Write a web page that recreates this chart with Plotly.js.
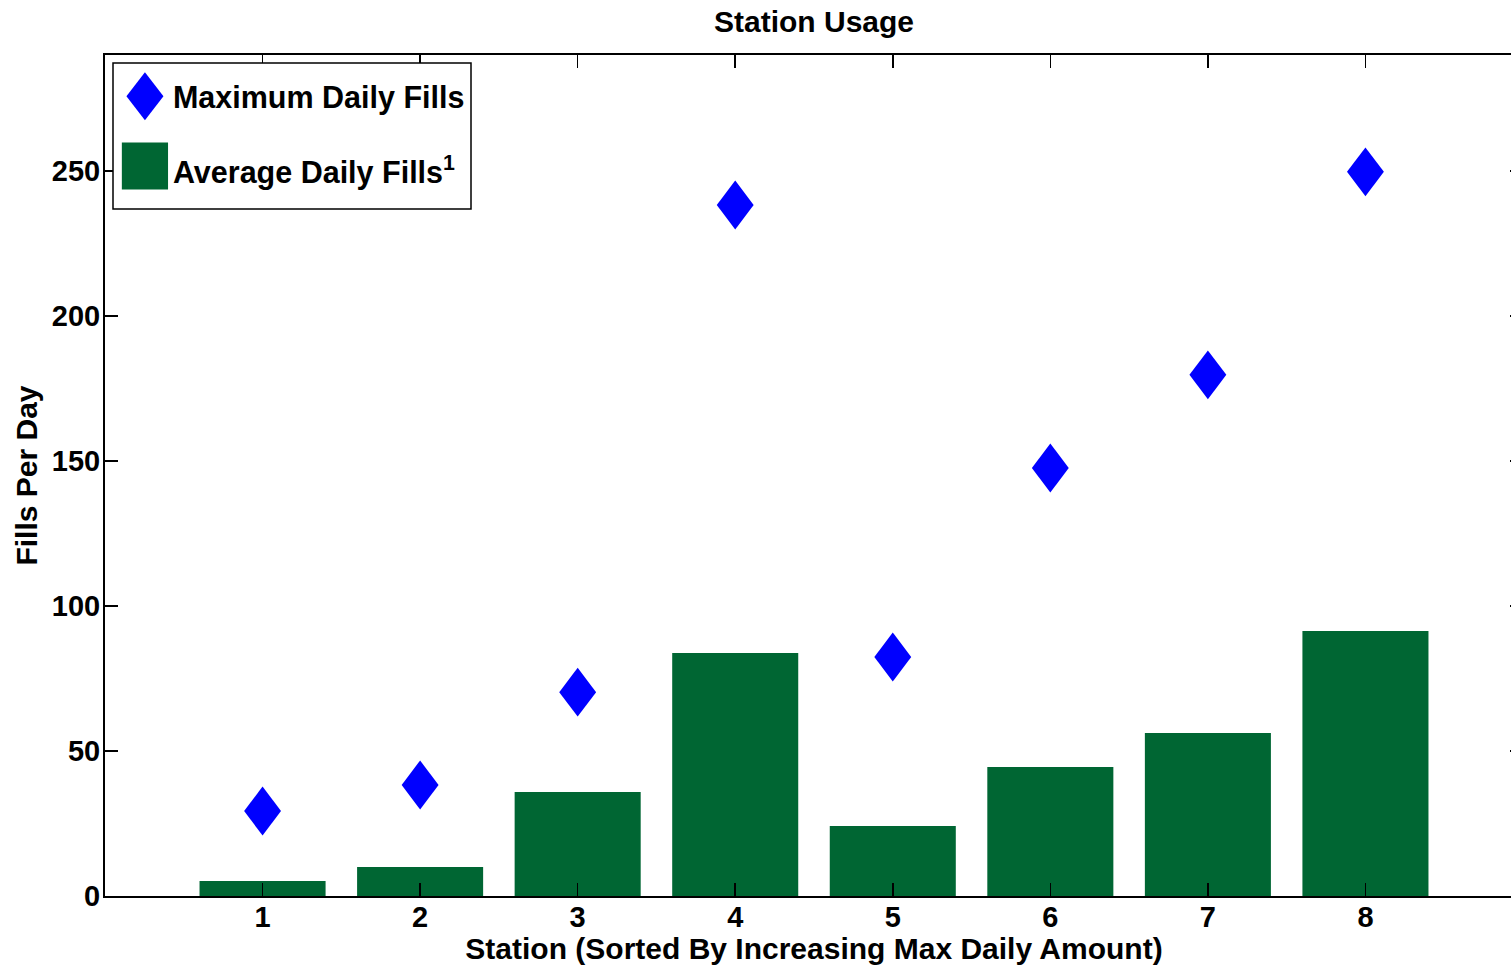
<!DOCTYPE html>
<html>
<head>
<meta charset="utf-8">
<script src="https://cdn.plot.ly/plotly-3.0.1.min.js"></script>
<style>
html,body{margin:0;padding:0;overflow:hidden;background:#fff;}
#chart{width:1530px;height:965px;}
</style>
</head>
<body>
<div id="chart"></div>
<script>
const stations = [1, 2, 3, 4, 5, 6, 7, 8];
const maxDailyFills = [29.3, 38.3, 70.3, 238.3, 82.4, 147.6, 179.7, 249.7];
const avgDailyFills = [5.2, 10.0, 35.9, 83.8, 24.1, 44.5, 56.2, 91.4];
const tickLabels = ['1', '2', '3', '4', '5', '6', '7', '8'];

const FONT = 'Liberation Sans, Arial, Helvetica, sans-serif';

const traces = [
  {
    type: 'scatter', mode: 'markers', x: stations, y: maxDailyFills,
    name: 'Maximum Daily Fills', legendgroup: 'a',
    marker: {symbol: 'diamond', size: 33, color: '#0000ff', line: {width: 0}}
  },
  {
    type: 'bar', x: stations, y: avgDailyFills, width: 0.8,
    name: 'Average Daily Fills<sup>1</sup>', legendgroup: 'b',
    marker: {color: '#006633', line: {width: 0}}
  }
];

const axisCommon = {
  showline: true, linecolor: '#000', linewidth: 2, mirror: 'ticks',
  ticks: 'inside', ticklen: 13, tickwidth: 1.5, tickcolor: '#000',
  showgrid: false, zeroline: false,
  tickfont: {family: FONT, size: 29, color: '#000', weight: 'bold'}
};

const titleFont = {family: FONT, size: 30, color: '#000', weight: 'bold'};

const layout = {
  width: 1530, height: 965,
  margin: {l: 105, r: 7, t: 55, b: 69},
  paper_bgcolor: '#fff', plot_bgcolor: '#fff',
  font: {family: FONT, size: 29, color: '#000', weight: 'bold'},
  title: {text: 'Station Usage', x: 0.5, xref: 'paper', xanchor: 'center',
          y: 1 - 21/965, yref: 'container', yanchor: 'middle', font: titleFont},
  xaxis: Object.assign({}, axisCommon, {
    range: [0, 9], tickvals: stations, ticktext: tickLabels,
    ticklabelstandoff: -6,
    title: {text: 'Station (Sorted By Increasing Max Daily Amount)', standoff: 12, font: titleFont}
  }),
  yaxis: Object.assign({}, axisCommon, {
    range: [0, 290], dtick: 50, tick0: 0,
    ticklabelstandoff: -3,
    title: {text: 'Fills Per Day', standoff: 5, font: titleFont}
  }),
  shapes: [{
    type: 'rect', xref: 'paper', yref: 'paper', layer: 'above',
    x0: (113 - 105) / 1418, x1: (471 - 105) / 1418,
    y0: 1 - (209 - 55) / 841, y1: 1 - (63 - 55) / 841,
    line: {color: '#000', width: 1.5}, fillcolor: '#fff'
  }],
  showlegend: true,
  legend: {
    x: 0.0056, y: 1 - (70 - 55) / 841, xanchor: 'left', yanchor: 'top',
    bgcolor: 'rgba(0,0,0,0)', borderwidth: 0,
    traceorder: 'grouped', tracegroupgap: 32, itemwidth: 50,
    font: {family: FONT, size: 30.5, color: '#000', weight: 'bold'}
  },
  bargap: 0.2
};

function reshape() {
  document.querySelectorAll('.scatterlayer .points path.point').forEach(p => {
    const t = p.getAttribute('transform') || '';
    if (!/scale/.test(t)) p.setAttribute('transform', t + ' scale(0.86,1.14)');
  });
  document.querySelectorAll('.legend .legendpoints path').forEach(p => {
    const t = p.getAttribute('transform') || '';
    if (/scale/.test(t)) return;
    if (p.classList.contains('scatterpts')) {
      p.setAttribute('transform', t + ' translate(2,0) scale(1.78,2.31)');
    } else {
      p.setAttribute('transform', t + ' translate(2,-5) scale(3.85,3.9)');
    }
  });
}

Plotly.newPlot('chart', traces, layout, {displayModeBar: false, staticPlot: true}).then(reshape);
</script>
</body>
</html>
